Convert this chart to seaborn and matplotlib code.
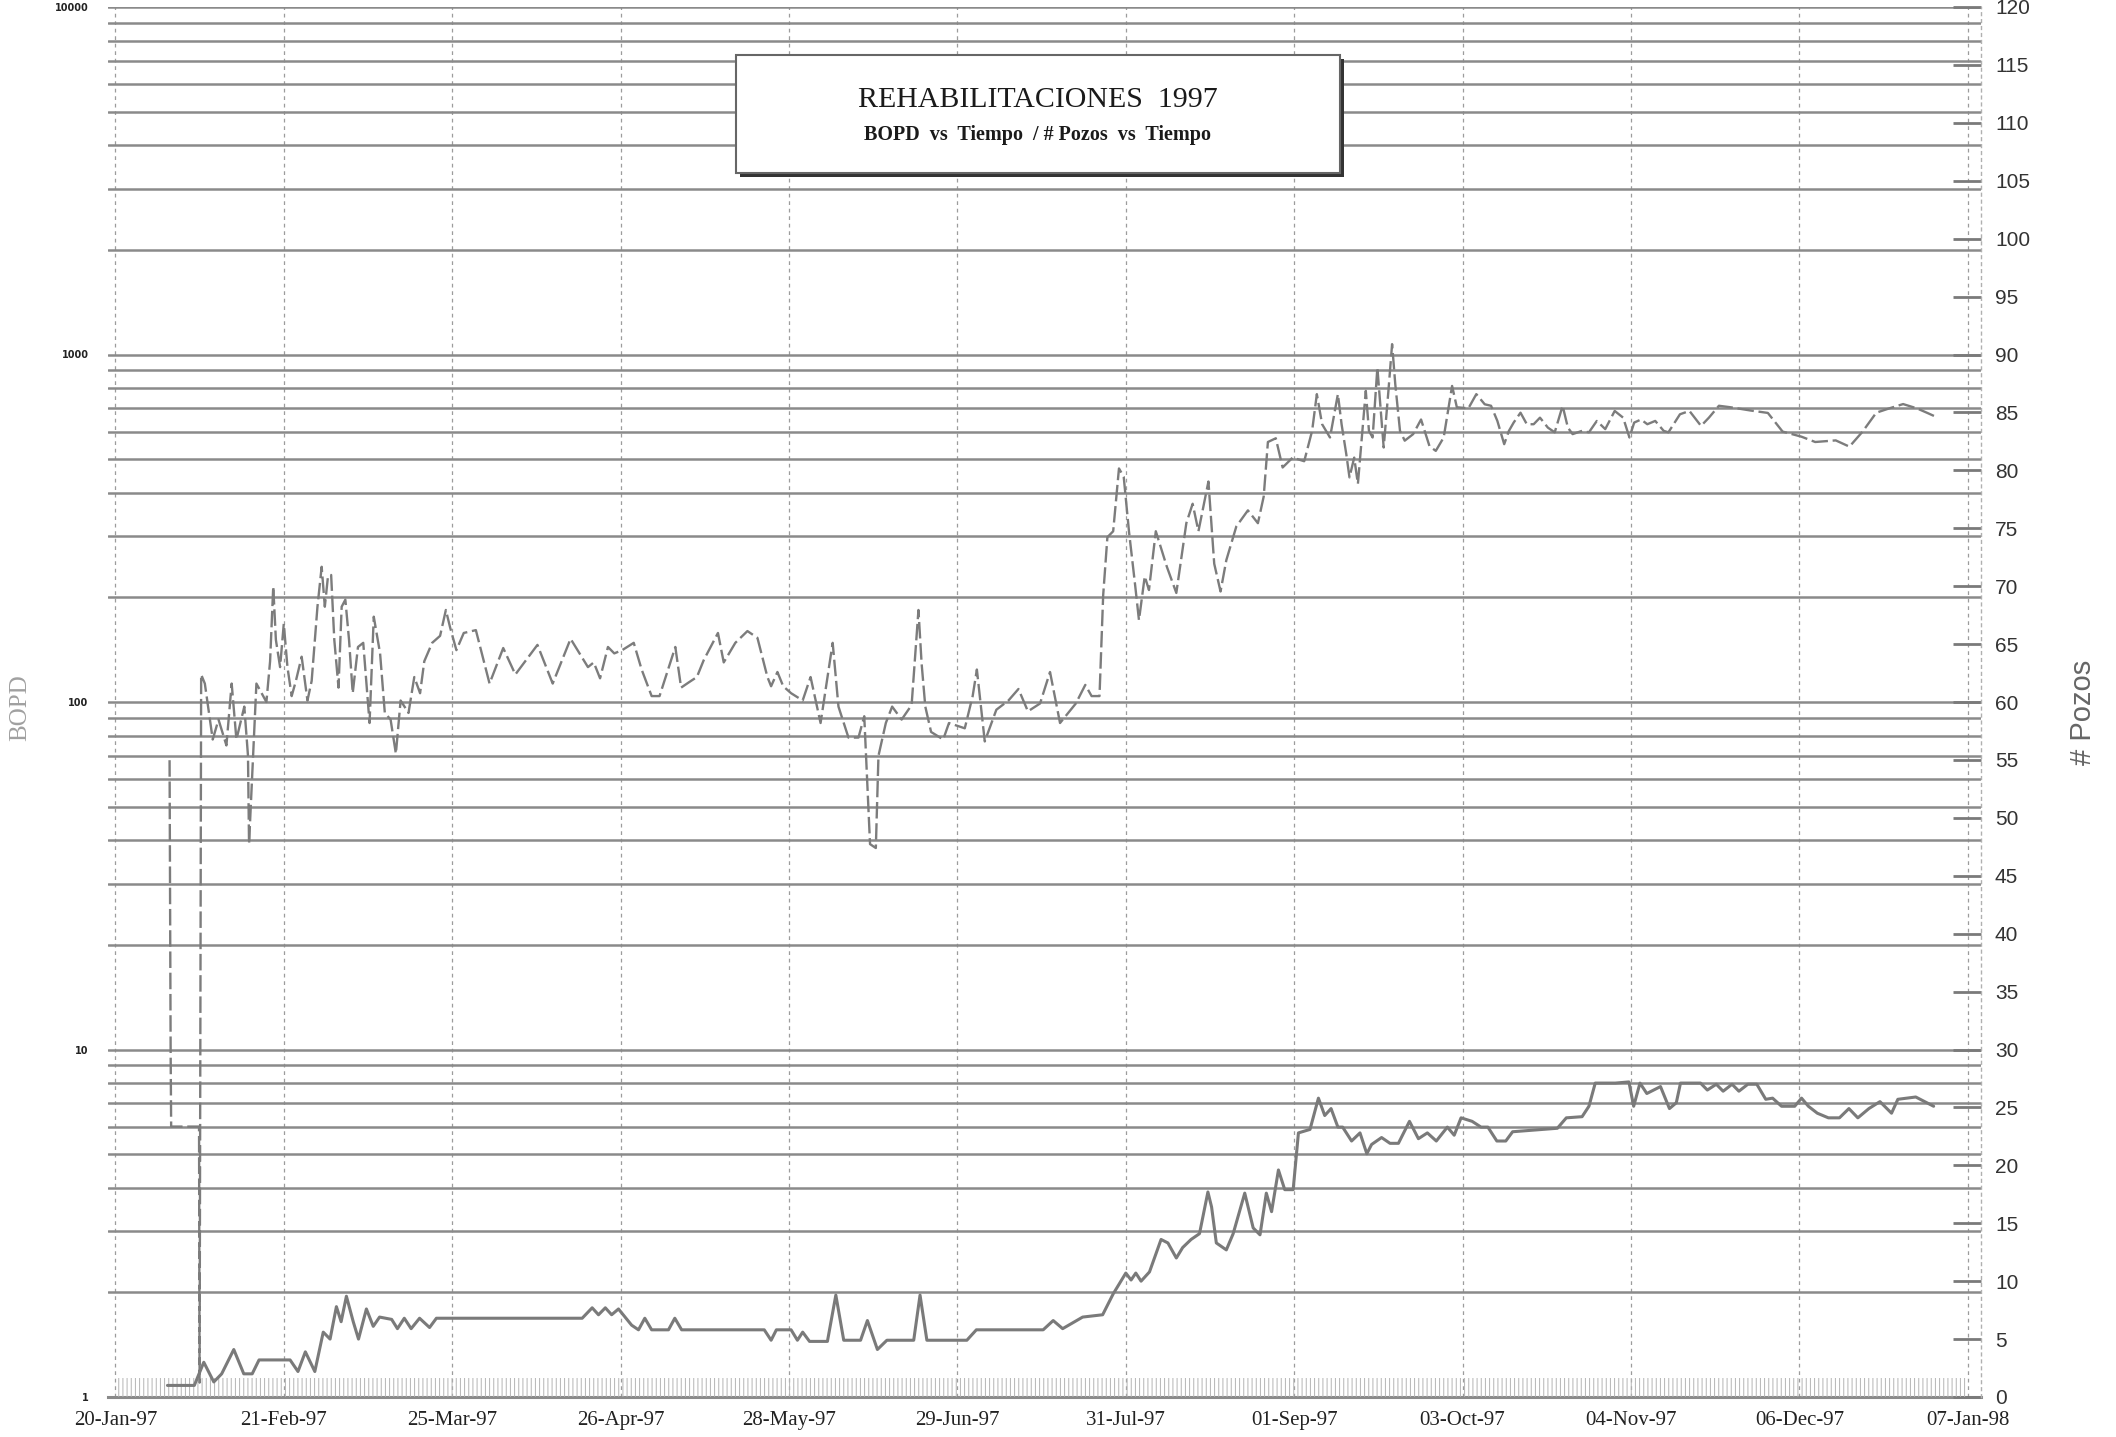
import numpy as np
import pandas as pd
import matplotlib
matplotlib.use("Agg")
import matplotlib.pyplot as plt
from matplotlib.ticker import LogLocator, NullFormatter, FixedLocator, FuncFormatter
from matplotlib.patches import Rectangle
import seaborn as sns

# ---------------------------------------------------------------- data
START = pd.Timestamp("1997-01-20")

tick_days = [0, 32, 64, 96, 128, 160, 192, 224, 256, 288, 320, 352]
tick_labels = ["20-Jan-97", "21-Feb-97", "25-Mar-97", "26-Apr-97", "28-May-97",
               "29-Jun-97", "31-Jul-97", "01-Sep-97", "03-Oct-97", "04-Nov-97",
               "06-Dec-97", "07-Jan-98"]

# oil rate (BOPD), days after 20-Jan-1997
bopd_day = [10.3, 10.5, 10.6, 15.9, 16.0, 16.3, 17.0, 18.5, 19.6, 21.1,
            22.1, 23.0, 24.5, 25.2, 25.4, 26.8, 28.7, 29.4, 30.0, 30.5,
            31.3, 32.0, 32.7, 33.5, 34.3, 35.4, 36.5, 37.3, 38.4, 39.2,
            39.8, 40.4, 41.0, 41.6, 42.4, 43.0, 43.7, 44.4, 45.1, 46.1,
            47.1, 47.8, 48.3, 49.1, 50.3, 51.2, 52.3, 53.3, 54.2, 55.7,
            56.8, 57.9, 58.7, 60.2, 61.7, 62.8, 63.6, 64.8, 66.2, 68.5,
            71.1, 73.7, 76.0, 80.2, 83.1, 86.5, 89.8, 90.9, 92.1, 93.6,
            94.8, 96.3, 98.5, 100.0, 101.9, 103.4, 106.4, 107.5, 109.0, 110.5,
            111.8, 114.5, 115.6, 117.8, 120.1, 122.0, 123.9, 124.6, 125.8, 126.9,
            128.4, 130.6, 132.1, 133.2, 134.0, 136.3, 137.4, 139.3, 141.2, 142.3,
            143.4, 144.5, 145.0, 146.4, 147.6, 149.4, 151.3, 152.6, 153.2, 153.9,
            155.0, 157.3, 158.4, 161.4, 162.9, 163.7, 165.2, 167.4, 169.7, 171.6,
            173.4, 175.7, 177.6, 179.5, 181.3, 182.5, 184.3, 185.5, 187.0, 187.7,
            188.5, 189.6, 190.7, 191.6, 192.6, 193.8, 194.5, 195.6, 196.4, 197.7,
            199.8, 201.6, 203.5, 204.7, 205.8, 207.7, 208.8, 210.0, 211.1, 213.0,
            215.2, 217.1, 218.2, 219.0, 220.5, 221.8, 223.7, 225.9, 227.4, 228.3,
            229.3, 230.8, 232.3, 233.0, 233.9, 234.5, 235.4, 236.1, 237.0, 237.6,
            238.2, 238.9, 239.8, 240.4, 241.0, 241.9, 242.6, 243.2, 244.1, 245.0,
            246.6, 248.1, 249.7, 250.9, 252.4, 254.0, 254.9, 257.1, 258.6, 260.2,
            261.4, 262.6, 263.9, 264.8, 265.7, 267.0, 268.2, 269.5, 270.7, 272.2,
            273.5, 275.0, 276.0, 276.9, 278.7, 280.0, 281.5, 283.1, 284.9, 286.5,
            287.7, 288.6, 289.9, 291.1, 292.6, 294.2, 295.1, 297.3, 299.1, 301.3,
            302.8, 304.7, 306.9, 310.7, 314.0, 316.8, 320.4, 323.0, 326.9, 329.5,
            332.0, 334.6, 337.1, 339.7, 342.3, 344.3, 346.1]
bopd_value = [68, 10, 6, 6, 1.1, 120, 113, 78, 89, 75,
              113, 78, 97, 70, 39, 113, 100, 131, 215, 151,
              126, 168, 126, 104, 115, 135, 101, 115, 188, 245,
              188, 230, 232, 151, 110, 188, 197, 151, 106, 144,
              148, 109, 87, 176, 138, 93, 89, 71, 101, 93,
              118, 106, 131, 148, 155, 184, 164, 141, 158, 161,
              113, 143, 120, 146, 113, 152, 126, 130, 117, 144,
              138, 141, 148, 124, 104, 104, 144, 110, 114, 118,
              132, 158, 130, 148, 160, 153, 118, 111, 122, 111,
              106, 101, 118, 99, 87, 148, 97, 79, 79, 91,
              39, 38, 70, 87, 97, 89, 98, 184, 129, 97,
              82, 78, 87, 84, 104, 124, 77, 95, 101, 109,
              94, 99, 122, 87, 94, 99, 112, 104, 104, 203,
              298, 310, 470, 445, 310, 215, 172, 230, 210, 310,
              245, 206, 327, 372, 310, 431, 250, 208, 256, 320,
              356, 327, 390, 560, 574, 473, 505, 493, 603, 769,
              630, 577, 769, 630, 516, 443, 505, 424, 616, 786,
              603, 577, 917, 705, 540, 786, 1071, 822, 603, 565,
              590, 650, 545, 528, 577, 812, 705, 700, 769, 719,
              712, 644, 552, 603, 637, 680, 630, 630, 658, 616,
              597, 712, 616, 590, 603, 597, 644, 610, 688, 658,
              577, 637, 650, 630, 644, 603, 597, 673, 688, 623,
              658, 712, 705, 690, 679, 600, 580, 560, 566, 543,
              600, 680, 700, 720, 700, 679, 660]

# number of wells (# Pozos), days after 20-Jan-1997
pozos_day = [9.9, 15.0, 16.8, 18.7, 20.2, 22.5, 24.4, 26.0, 27.3, 33.2,
             34.7, 36.1, 37.9, 39.5, 40.8, 42.0, 42.9, 43.9, 45.2, 46.2,
             47.7, 49.0, 50.2, 52.5, 53.6, 54.9, 56.2, 57.8, 59.7, 61.0,
             88.7, 90.6, 91.8, 93.1, 94.3, 95.6, 98.1, 99.4, 100.6, 101.9,
             105.1, 106.3, 107.6, 123.3, 124.6, 125.6, 128.4, 129.6, 130.6, 131.9,
             135.3, 136.9, 138.4, 141.6, 142.9, 144.8, 146.6, 151.7, 152.9, 154.2,
             161.8, 163.6, 176.3, 178.2, 180.0, 183.8, 187.6, 189.6, 192.0, 193.0,
             193.9, 194.9, 196.5, 198.7, 200.0, 201.6, 202.8, 204.4, 206.0, 207.6,
             208.3, 209.2, 211.1, 212.4, 214.6, 216.2, 217.5, 218.7, 219.7, 221.0,
             222.2, 223.8, 224.8, 227.0, 228.6, 229.8, 231.0, 232.3, 233.2, 234.9,
             236.5, 237.8, 238.7, 240.6, 242.2, 243.8, 245.9, 247.6, 249.3, 251.0,
             253.1, 254.4, 255.7, 257.8, 259.5, 260.8, 262.5, 264.2, 265.5, 274.0,
             275.7, 278.7, 280.0, 281.2, 285.0, 287.6, 288.5, 289.7, 291.0, 293.6,
             295.3, 296.6, 297.4, 301.2, 302.5, 304.2, 305.5, 307.2, 308.5, 310.2,
             311.9, 313.6, 314.9, 316.6, 319.1, 320.4, 321.7, 323.4, 325.5, 327.6,
             329.4, 331.1, 333.2, 335.3, 337.5, 338.7, 342.1, 343.8, 345.5]
pozos_count = [1.0, 1.0, 3.0, 1.3, 2.0, 4.1, 2.0, 2.0, 3.2, 3.2,
               2.2, 3.9, 2.2, 5.6, 5.0, 7.8, 6.5, 8.7, 6.5, 5.0,
               7.6, 6.1, 6.9, 6.7, 5.9, 6.8, 5.9, 6.8, 6.0, 6.8,
               6.8, 7.7, 7.1, 7.7, 7.1, 7.6, 6.2, 5.8, 6.8, 5.8,
               5.8, 6.8, 5.8, 5.8, 4.9, 5.8, 5.8, 4.9, 5.6, 4.8,
               4.8, 8.8, 4.9, 4.9, 6.6, 4.1, 4.9, 4.9, 8.8, 4.9,
               4.9, 5.8, 5.8, 6.6, 5.9, 6.9, 7.1, 8.9, 10.7, 10.1,
               10.7, 10.0, 10.8, 13.6, 13.3, 12.0, 12.9, 13.6, 14.1, 17.7,
               16.4, 13.3, 12.7, 14.1, 17.6, 14.6, 14.0, 17.6, 16.0, 19.6,
               17.9, 17.9, 22.8, 23.1, 25.8, 24.3, 24.9, 23.3, 23.3, 22.1,
               22.8, 21.0, 21.8, 22.4, 21.9, 21.9, 23.8, 22.3, 22.8, 22.1,
               23.3, 22.6, 24.1, 23.8, 23.3, 23.3, 22.1, 22.1, 22.9, 23.2,
               24.1, 24.2, 25.1, 27.1, 27.1, 27.2, 25.1, 27.1, 26.2, 26.8,
               24.9, 25.4, 27.1, 27.1, 26.5, 27.0, 26.4, 27.0, 26.4, 27.0,
               27.0, 25.7, 25.8, 25.1, 25.1, 25.8, 25.1, 24.5, 24.1, 24.1,
               24.9, 24.1, 24.9, 25.5, 24.5, 25.7, 25.9, 25.5, 25.1]

# daily activity strip along the base of the chart
strip_days = [0, 352]
strip_top = 1.6

title = "REHABILITACIONES  1997"
subtitle = "BOPD  vs  Tiempo  / # Pozos  vs  Tiempo"

# ---------------------------------------------------------------- frames
def to_dates(days):
    return START + pd.to_timedelta(np.asarray(days, dtype=float), unit="D")

bopd_df = pd.DataFrame({"fecha": to_dates(bopd_day), "BOPD": bopd_value})
pozos_df = pd.DataFrame({"fecha": to_dates(pozos_day), "Pozos": pozos_count})

# ---------------------------------------------------------------- style
sns.set_theme(style="white")
plt.rcParams["font.family"] = ["DejaVu Sans"]
plt.rcParams["hatch.linewidth"] = 0.7
plt.rcParams["hatch.color"] = "#b4b4b4"

W, H = 2116, 1437
fig = plt.figure(figsize=(W / 100, H / 100), dpi=100)
fig.patch.set_facecolor("white")

left_px, right_px, top_px, bot_px = 108, 1981, 7, 1397
ax = fig.add_axes([left_px / W, 1 - bot_px / H,
                   (right_px - left_px) / W, (bot_px - top_px) / H])
ax.set_facecolor("white")

# BOPD on logarithmic left axis
sns.lineplot(data=bopd_df, x="fecha", y="BOPD", ax=ax, estimator=None,
             color="#7c7c7c", linewidth=1.7, linestyle=(0, (7, 2)), zorder=3)
ax.set_yscale("log")
ax.set_ylim(1, 10000)
ax.set_xlim(START - pd.Timedelta(days=1.4), START + pd.Timedelta(days=354.5))

ax.yaxis.set_major_locator(LogLocator(base=10, numticks=10))
ax.yaxis.set_minor_locator(LogLocator(base=10, subs=np.arange(2, 10), numticks=100))
ax.yaxis.set_minor_formatter(NullFormatter())
ax.yaxis.set_major_formatter(FuncFormatter(lambda v, p: f"{int(round(v))}"))
ax.grid(which="both", axis="y", color="#8a8a8a", linewidth=1.8, zorder=1)
ax.tick_params(axis="y", which="both", length=0, pad=14, labelsize=7,
               labelcolor="#222222")
for lab in ax.get_yticklabels():
    lab.set_fontweight("bold")

tick_dates = to_dates(tick_days)
ax.set_xticks(tick_dates)
ax.set_xticklabels(tick_labels, family="Liberation Serif", fontsize=15,
                   color="#222222")
ax.tick_params(axis="x", length=0, pad=10)
ax.grid(which="major", axis="x", color="#9c9c9c", linewidth=0.9,
        linestyle=(0, (3, 3)), zorder=1)
ax.set_xlabel("")
ax.set_ylabel("")
for side in ("left", "top", "right"):
    ax.spines[side].set_visible(False)
ax.spines["bottom"].set_color("#8a8a8a")
ax.spines["bottom"].set_linewidth(2.2)

# number of wells on linear right axis
ax2 = ax.twinx()
ax2.fill_between(to_dates(strip_days), 0, strip_top, facecolor="none",
                 edgecolor="#b4b4b4", hatch="||||", linewidth=0, zorder=2)
sns.lineplot(data=pozos_df, x="fecha", y="Pozos", ax=ax2, estimator=None,
             color="#7a7a7a", linewidth=2.2, zorder=4)
ax2.set_ylim(0, 120)
ax2.yaxis.set_major_locator(FixedLocator(np.arange(0, 121, 5)))
ax2.yaxis.set_major_formatter(FuncFormatter(lambda v, p: f"{int(v)}"))
ax2.tick_params(axis="y", direction="in", length=20, width=2, color="#7a7a7a",
                pad=10, labelsize=15, labelcolor="#333333")
for lab in ax2.get_yticklabels():
    lab.set_family("Liberation Sans")
ax2.set_ylabel("")
ax2.set_xlabel("")
ax2.grid(False)
for side in ("left", "top", "bottom"):
    ax2.spines[side].set_visible(False)
ax2.spines["right"].set_color("#b0b0b0")
ax2.spines["right"].set_linewidth(1.0)
ax2.spines["right"].set_linestyle((0, (2, 3)))
ax2.set_xlim(ax.get_xlim())

# axis titles
fig.text(20 / W, 1 - 708 / H, "BOPD", rotation=90, ha="center", va="center",
         family="Liberation Serif", fontsize=18, color="#a0a0a0")
fig.text(2083 / W, 1 - 712 / H, "# Pozos", rotation=90, ha="center",
         va="center", family="Liberation Sans", fontsize=21, color="#666666")

# title box with drop shadow
bx0, bx1, by0, by1 = 736, 1340, 55, 173
shadow = Rectangle(((bx0 + 4) / W, 1 - (by1 + 4) / H), (bx1 - bx0) / W,
                   (by1 - by0) / H, transform=fig.transFigure,
                   facecolor="#333333", edgecolor="none", zorder=10)
box = Rectangle((bx0 / W, 1 - by1 / H), (bx1 - bx0) / W, (by1 - by0) / H,
                transform=fig.transFigure, facecolor="white",
                edgecolor="#666666", linewidth=1.5, zorder=11)
fig.add_artist(shadow)
fig.add_artist(box)
cx = (bx0 + bx1) / 2 / W
fig.text(cx, 1 - 100 / H, title, ha="center", va="center",
         family="Liberation Serif", fontsize=21.5, color="#1a1a1a", zorder=12)
fig.text(cx, 1 - 135 / H, subtitle, ha="center", va="center",
         family="Liberation Serif", fontsize=14.5, fontweight="bold",
         color="#1a1a1a", zorder=12)

fig.savefig("out.png", dpi=100, facecolor="white")
